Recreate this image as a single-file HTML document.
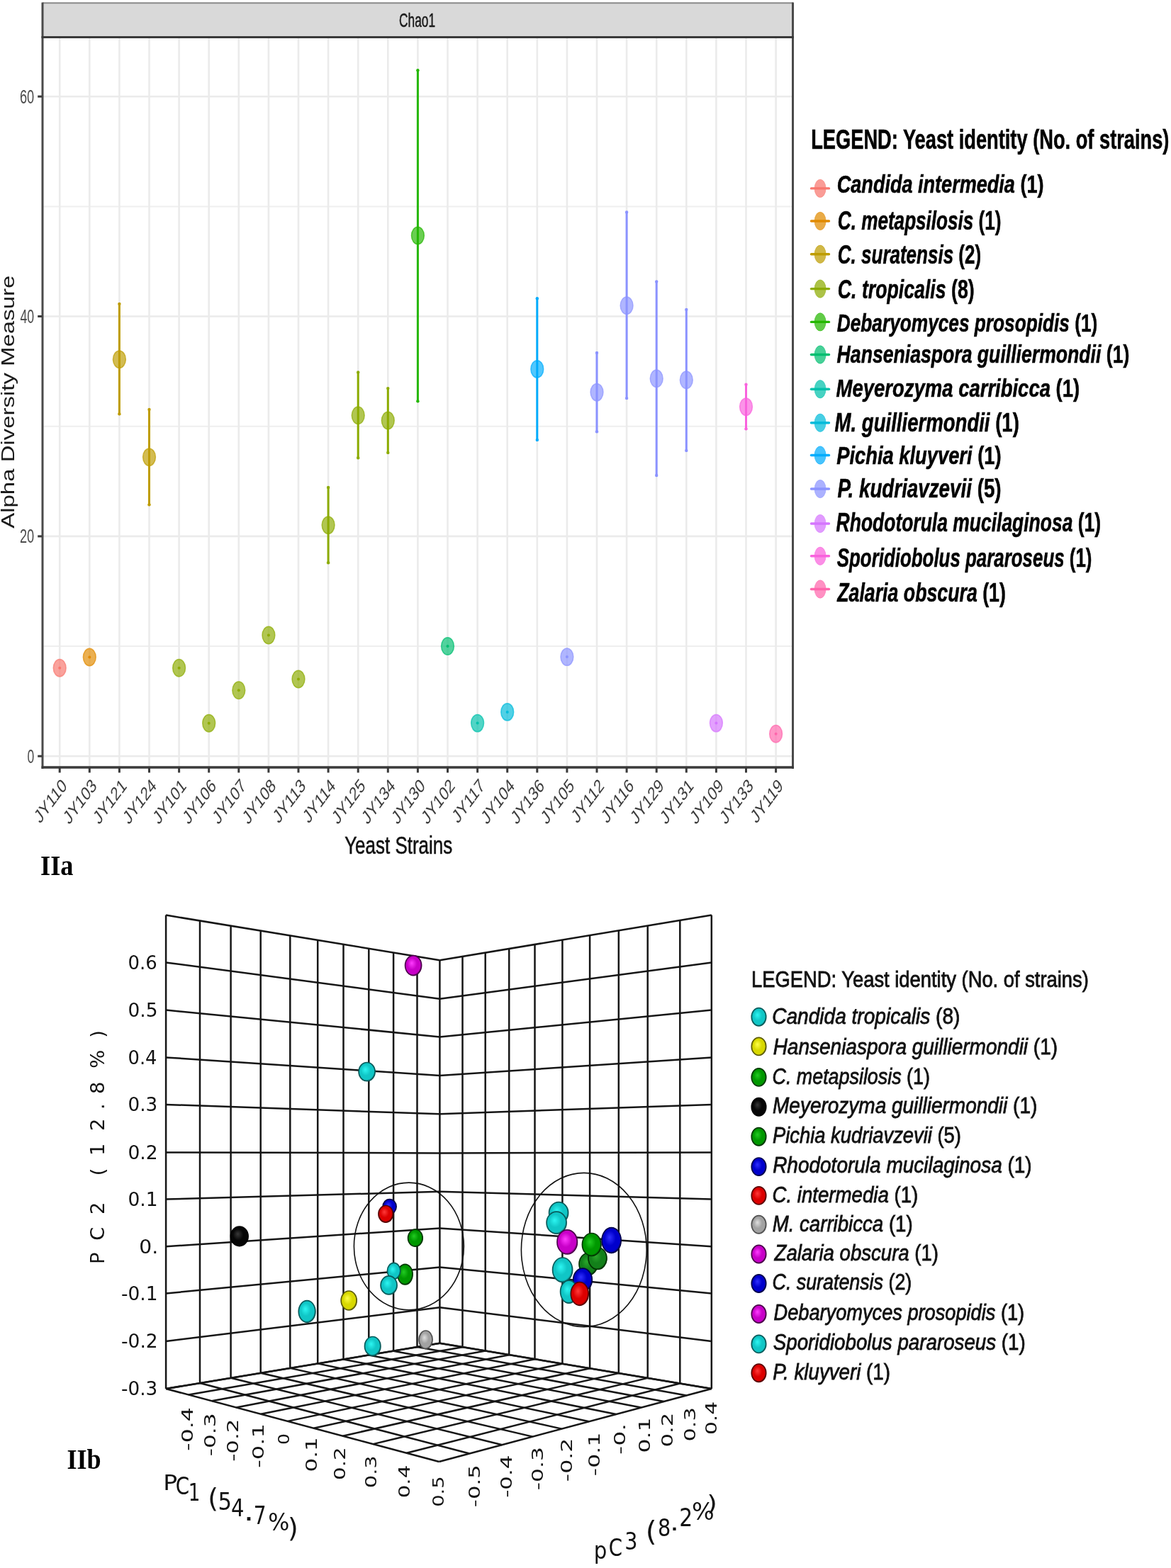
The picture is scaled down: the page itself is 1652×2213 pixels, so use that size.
<!DOCTYPE html>
<html><head><meta charset="utf-8"><title>Alpha diversity and PCA of yeast strains</title>
<style>html,body{margin:0;padding:0;background:#fff;overflow:hidden;width:1652px;height:2213px;} svg{display:block;}</style></head>
<body>
<svg width="1652" height="2213" viewBox="0 0 1652 2213">
<rect width="1652" height="2213" fill="#ffffff"/>
<rect x="60" y="53" width="1059" height="1030" fill="#ffffff"/>
<line x1="61" y1="912.0" x2="1117" y2="912.0" stroke="#EFEFEF" stroke-width="2"/>
<line x1="61" y1="601.7" x2="1117" y2="601.7" stroke="#EFEFEF" stroke-width="2"/>
<line x1="61" y1="291.4" x2="1117" y2="291.4" stroke="#EFEFEF" stroke-width="2"/>
<line x1="61" y1="1067.2" x2="1117" y2="1067.2" stroke="#EBEBEB" stroke-width="2.6"/>
<line x1="61" y1="756.9" x2="1117" y2="756.9" stroke="#EBEBEB" stroke-width="2.6"/>
<line x1="61" y1="446.5" x2="1117" y2="446.5" stroke="#EBEBEB" stroke-width="2.6"/>
<line x1="61" y1="136.2" x2="1117" y2="136.2" stroke="#EBEBEB" stroke-width="2.6"/>
<line x1="84.2" y1="54" x2="84.2" y2="1082" stroke="#EBEBEB" stroke-width="2.6"/>
<line x1="126.3" y1="54" x2="126.3" y2="1082" stroke="#EBEBEB" stroke-width="2.6"/>
<line x1="168.4" y1="54" x2="168.4" y2="1082" stroke="#EBEBEB" stroke-width="2.6"/>
<line x1="210.5" y1="54" x2="210.5" y2="1082" stroke="#EBEBEB" stroke-width="2.6"/>
<line x1="252.6" y1="54" x2="252.6" y2="1082" stroke="#EBEBEB" stroke-width="2.6"/>
<line x1="294.7" y1="54" x2="294.7" y2="1082" stroke="#EBEBEB" stroke-width="2.6"/>
<line x1="336.8" y1="54" x2="336.8" y2="1082" stroke="#EBEBEB" stroke-width="2.6"/>
<line x1="378.9" y1="54" x2="378.9" y2="1082" stroke="#EBEBEB" stroke-width="2.6"/>
<line x1="421.0" y1="54" x2="421.0" y2="1082" stroke="#EBEBEB" stroke-width="2.6"/>
<line x1="463.1" y1="54" x2="463.1" y2="1082" stroke="#EBEBEB" stroke-width="2.6"/>
<line x1="505.2" y1="54" x2="505.2" y2="1082" stroke="#EBEBEB" stroke-width="2.6"/>
<line x1="547.3" y1="54" x2="547.3" y2="1082" stroke="#EBEBEB" stroke-width="2.6"/>
<line x1="589.4" y1="54" x2="589.4" y2="1082" stroke="#EBEBEB" stroke-width="2.6"/>
<line x1="631.5" y1="54" x2="631.5" y2="1082" stroke="#EBEBEB" stroke-width="2.6"/>
<line x1="673.6" y1="54" x2="673.6" y2="1082" stroke="#EBEBEB" stroke-width="2.6"/>
<line x1="715.7" y1="54" x2="715.7" y2="1082" stroke="#EBEBEB" stroke-width="2.6"/>
<line x1="757.8" y1="54" x2="757.8" y2="1082" stroke="#EBEBEB" stroke-width="2.6"/>
<line x1="799.9" y1="54" x2="799.9" y2="1082" stroke="#EBEBEB" stroke-width="2.6"/>
<line x1="842.0" y1="54" x2="842.0" y2="1082" stroke="#EBEBEB" stroke-width="2.6"/>
<line x1="884.1" y1="54" x2="884.1" y2="1082" stroke="#EBEBEB" stroke-width="2.6"/>
<line x1="926.2" y1="54" x2="926.2" y2="1082" stroke="#EBEBEB" stroke-width="2.6"/>
<line x1="968.3" y1="54" x2="968.3" y2="1082" stroke="#EBEBEB" stroke-width="2.6"/>
<line x1="1010.4" y1="54" x2="1010.4" y2="1082" stroke="#EBEBEB" stroke-width="2.6"/>
<line x1="1052.5" y1="54" x2="1052.5" y2="1082" stroke="#EBEBEB" stroke-width="2.6"/>
<line x1="1094.6" y1="54" x2="1094.6" y2="1082" stroke="#EBEBEB" stroke-width="2.6"/>
<rect x="60" y="4" width="1059" height="49" fill="#D9D9D9"/>
<line x1="60" y1="4.2" x2="1119" y2="4.2" stroke="#8A8A8A" stroke-width="2"/>
<line x1="60" y1="3.5" x2="60" y2="1085" stroke="#4A4A4A" stroke-width="3"/>
<line x1="1118.5" y1="3.5" x2="1118.5" y2="1085" stroke="#4A4A4A" stroke-width="3"/>
<line x1="58.5" y1="52.5" x2="1120" y2="52.5" stroke="#3A3A3A" stroke-width="3.2"/>
<line x1="58.5" y1="1083" x2="1120" y2="1083" stroke="#3A3A3A" stroke-width="3.6"/>
<line x1="53.2" y1="1067.2" x2="59" y2="1067.2" stroke="#3A3A3A" stroke-width="3"/>
<line x1="53.2" y1="756.9" x2="59" y2="756.9" stroke="#3A3A3A" stroke-width="3"/>
<line x1="53.2" y1="446.5" x2="59" y2="446.5" stroke="#3A3A3A" stroke-width="3"/>
<line x1="53.2" y1="136.2" x2="59" y2="136.2" stroke="#3A3A3A" stroke-width="3"/>
<line x1="84.2" y1="1084" x2="84.2" y2="1090.5" stroke="#3A3A3A" stroke-width="3"/>
<line x1="126.3" y1="1084" x2="126.3" y2="1090.5" stroke="#3A3A3A" stroke-width="3"/>
<line x1="168.4" y1="1084" x2="168.4" y2="1090.5" stroke="#3A3A3A" stroke-width="3"/>
<line x1="210.5" y1="1084" x2="210.5" y2="1090.5" stroke="#3A3A3A" stroke-width="3"/>
<line x1="252.6" y1="1084" x2="252.6" y2="1090.5" stroke="#3A3A3A" stroke-width="3"/>
<line x1="294.7" y1="1084" x2="294.7" y2="1090.5" stroke="#3A3A3A" stroke-width="3"/>
<line x1="336.8" y1="1084" x2="336.8" y2="1090.5" stroke="#3A3A3A" stroke-width="3"/>
<line x1="378.9" y1="1084" x2="378.9" y2="1090.5" stroke="#3A3A3A" stroke-width="3"/>
<line x1="421.0" y1="1084" x2="421.0" y2="1090.5" stroke="#3A3A3A" stroke-width="3"/>
<line x1="463.1" y1="1084" x2="463.1" y2="1090.5" stroke="#3A3A3A" stroke-width="3"/>
<line x1="505.2" y1="1084" x2="505.2" y2="1090.5" stroke="#3A3A3A" stroke-width="3"/>
<line x1="547.3" y1="1084" x2="547.3" y2="1090.5" stroke="#3A3A3A" stroke-width="3"/>
<line x1="589.4" y1="1084" x2="589.4" y2="1090.5" stroke="#3A3A3A" stroke-width="3"/>
<line x1="631.5" y1="1084" x2="631.5" y2="1090.5" stroke="#3A3A3A" stroke-width="3"/>
<line x1="673.6" y1="1084" x2="673.6" y2="1090.5" stroke="#3A3A3A" stroke-width="3"/>
<line x1="715.7" y1="1084" x2="715.7" y2="1090.5" stroke="#3A3A3A" stroke-width="3"/>
<line x1="757.8" y1="1084" x2="757.8" y2="1090.5" stroke="#3A3A3A" stroke-width="3"/>
<line x1="799.9" y1="1084" x2="799.9" y2="1090.5" stroke="#3A3A3A" stroke-width="3"/>
<line x1="842.0" y1="1084" x2="842.0" y2="1090.5" stroke="#3A3A3A" stroke-width="3"/>
<line x1="884.1" y1="1084" x2="884.1" y2="1090.5" stroke="#3A3A3A" stroke-width="3"/>
<line x1="926.2" y1="1084" x2="926.2" y2="1090.5" stroke="#3A3A3A" stroke-width="3"/>
<line x1="968.3" y1="1084" x2="968.3" y2="1090.5" stroke="#3A3A3A" stroke-width="3"/>
<line x1="1010.4" y1="1084" x2="1010.4" y2="1090.5" stroke="#3A3A3A" stroke-width="3"/>
<line x1="1052.5" y1="1084" x2="1052.5" y2="1090.5" stroke="#3A3A3A" stroke-width="3"/>
<line x1="1094.6" y1="1084" x2="1094.6" y2="1090.5" stroke="#3A3A3A" stroke-width="3"/>
<ellipse cx="84.2" cy="942.7" rx="8.9" ry="12.2" fill="#F8766D" fill-opacity="0.68" stroke="#F8766D" stroke-opacity="0.7" stroke-width="1.5"/>
<circle cx="84.2" cy="942.7" r="2" fill="#F8766D"/>
<ellipse cx="126.3" cy="927.5" rx="8.9" ry="12.2" fill="#E18A00" fill-opacity="0.68" stroke="#E18A00" stroke-opacity="0.7" stroke-width="1.5"/>
<circle cx="126.3" cy="927.5" r="2" fill="#E18A00"/>
<ellipse cx="168.4" cy="507.1" rx="8.9" ry="12.2" fill="#BE9C00" fill-opacity="0.68" stroke="#BE9C00" stroke-opacity="0.7" stroke-width="1.5"/>
<line x1="168.4" y1="429.0" x2="168.4" y2="584.3" stroke="#BE9C00" stroke-width="3"/>
<circle cx="168.4" cy="429.0" r="2.2" fill="#BE9C00"/><circle cx="168.4" cy="584.3" r="2.2" fill="#BE9C00"/>
<ellipse cx="210.5" cy="645.1" rx="8.9" ry="12.2" fill="#BE9C00" fill-opacity="0.68" stroke="#BE9C00" stroke-opacity="0.7" stroke-width="1.5"/>
<line x1="210.5" y1="578.0" x2="210.5" y2="712.3" stroke="#BE9C00" stroke-width="3"/>
<circle cx="210.5" cy="578.0" r="2.2" fill="#BE9C00"/><circle cx="210.5" cy="712.3" r="2.2" fill="#BE9C00"/>
<ellipse cx="252.6" cy="942.7" rx="8.9" ry="12.2" fill="#8CAB00" fill-opacity="0.68" stroke="#8CAB00" stroke-opacity="0.7" stroke-width="1.5"/>
<circle cx="252.6" cy="942.7" r="2" fill="#8CAB00"/>
<ellipse cx="294.7" cy="1020.7" rx="8.9" ry="12.2" fill="#8CAB00" fill-opacity="0.68" stroke="#8CAB00" stroke-opacity="0.7" stroke-width="1.5"/>
<circle cx="294.7" cy="1020.7" r="2" fill="#8CAB00"/>
<ellipse cx="336.8" cy="974.2" rx="8.9" ry="12.2" fill="#8CAB00" fill-opacity="0.68" stroke="#8CAB00" stroke-opacity="0.7" stroke-width="1.5"/>
<circle cx="336.8" cy="974.2" r="2" fill="#8CAB00"/>
<ellipse cx="378.9" cy="896.5" rx="8.9" ry="12.2" fill="#8CAB00" fill-opacity="0.68" stroke="#8CAB00" stroke-opacity="0.7" stroke-width="1.5"/>
<circle cx="378.9" cy="896.5" r="2" fill="#8CAB00"/>
<ellipse cx="421.0" cy="958.5" rx="8.9" ry="12.2" fill="#8CAB00" fill-opacity="0.68" stroke="#8CAB00" stroke-opacity="0.7" stroke-width="1.5"/>
<circle cx="421.0" cy="958.5" r="2" fill="#8CAB00"/>
<ellipse cx="463.1" cy="741.1" rx="8.9" ry="12.2" fill="#8CAB00" fill-opacity="0.68" stroke="#8CAB00" stroke-opacity="0.7" stroke-width="1.5"/>
<line x1="463.1" y1="687.9" x2="463.1" y2="794.2" stroke="#8CAB00" stroke-width="3"/>
<circle cx="463.1" cy="687.9" r="2.2" fill="#8CAB00"/><circle cx="463.1" cy="794.2" r="2.2" fill="#8CAB00"/>
<ellipse cx="505.2" cy="586.3" rx="8.9" ry="12.2" fill="#8CAB00" fill-opacity="0.68" stroke="#8CAB00" stroke-opacity="0.7" stroke-width="1.5"/>
<line x1="505.2" y1="525.4" x2="505.2" y2="646.2" stroke="#8CAB00" stroke-width="3"/>
<circle cx="505.2" cy="525.4" r="2.2" fill="#8CAB00"/><circle cx="505.2" cy="646.2" r="2.2" fill="#8CAB00"/>
<ellipse cx="547.3" cy="593.5" rx="8.9" ry="12.2" fill="#8CAB00" fill-opacity="0.68" stroke="#8CAB00" stroke-opacity="0.7" stroke-width="1.5"/>
<line x1="547.3" y1="548.1" x2="547.3" y2="638.9" stroke="#8CAB00" stroke-width="3"/>
<circle cx="547.3" cy="548.1" r="2.2" fill="#8CAB00"/><circle cx="547.3" cy="638.9" r="2.2" fill="#8CAB00"/>
<ellipse cx="589.4" cy="332.5" rx="8.9" ry="12.2" fill="#24B700" fill-opacity="0.68" stroke="#24B700" stroke-opacity="0.7" stroke-width="1.5"/>
<line x1="589.4" y1="99.2" x2="589.4" y2="566.3" stroke="#24B700" stroke-width="3"/>
<circle cx="589.4" cy="99.2" r="2.2" fill="#24B700"/><circle cx="589.4" cy="566.3" r="2.2" fill="#24B700"/>
<ellipse cx="631.5" cy="912.0" rx="8.9" ry="12.2" fill="#00BE70" fill-opacity="0.68" stroke="#00BE70" stroke-opacity="0.7" stroke-width="1.5"/>
<circle cx="631.5" cy="912.0" r="2" fill="#00BE70"/>
<ellipse cx="673.6" cy="1020.6" rx="8.9" ry="12.2" fill="#00C1AB" fill-opacity="0.68" stroke="#00C1AB" stroke-opacity="0.7" stroke-width="1.5"/>
<circle cx="673.6" cy="1020.6" r="2" fill="#00C1AB"/>
<ellipse cx="715.7" cy="1004.9" rx="8.9" ry="12.2" fill="#00BBDA" fill-opacity="0.68" stroke="#00BBDA" stroke-opacity="0.7" stroke-width="1.5"/>
<circle cx="715.7" cy="1004.9" r="2" fill="#00BBDA"/>
<ellipse cx="757.8" cy="520.9" rx="8.9" ry="12.2" fill="#00ACFC" fill-opacity="0.68" stroke="#00ACFC" stroke-opacity="0.7" stroke-width="1.5"/>
<line x1="757.8" y1="421.2" x2="757.8" y2="620.9" stroke="#00ACFC" stroke-width="3"/>
<circle cx="757.8" cy="421.2" r="2.2" fill="#00ACFC"/><circle cx="757.8" cy="620.9" r="2.2" fill="#00ACFC"/>
<ellipse cx="799.9" cy="927.1" rx="8.9" ry="12.2" fill="#8B93FF" fill-opacity="0.68" stroke="#8B93FF" stroke-opacity="0.7" stroke-width="1.5"/>
<circle cx="799.9" cy="927.1" r="2" fill="#8B93FF"/>
<ellipse cx="842.0" cy="553.6" rx="8.9" ry="12.2" fill="#8B93FF" fill-opacity="0.68" stroke="#8B93FF" stroke-opacity="0.7" stroke-width="1.5"/>
<line x1="842.0" y1="497.9" x2="842.0" y2="609.3" stroke="#8B93FF" stroke-width="3"/>
<circle cx="842.0" cy="497.9" r="2.2" fill="#8B93FF"/><circle cx="842.0" cy="609.3" r="2.2" fill="#8B93FF"/>
<ellipse cx="884.1" cy="431.3" rx="8.9" ry="12.2" fill="#8B93FF" fill-opacity="0.68" stroke="#8B93FF" stroke-opacity="0.7" stroke-width="1.5"/>
<line x1="884.1" y1="299.4" x2="884.1" y2="562.1" stroke="#8B93FF" stroke-width="3"/>
<circle cx="884.1" cy="299.4" r="2.2" fill="#8B93FF"/><circle cx="884.1" cy="562.1" r="2.2" fill="#8B93FF"/>
<ellipse cx="926.2" cy="534.2" rx="8.9" ry="12.2" fill="#8B93FF" fill-opacity="0.68" stroke="#8B93FF" stroke-opacity="0.7" stroke-width="1.5"/>
<line x1="926.2" y1="397.4" x2="926.2" y2="671.0" stroke="#8B93FF" stroke-width="3"/>
<circle cx="926.2" cy="397.4" r="2.2" fill="#8B93FF"/><circle cx="926.2" cy="671.0" r="2.2" fill="#8B93FF"/>
<ellipse cx="968.3" cy="536.2" rx="8.9" ry="12.2" fill="#8B93FF" fill-opacity="0.68" stroke="#8B93FF" stroke-opacity="0.7" stroke-width="1.5"/>
<line x1="968.3" y1="436.9" x2="968.3" y2="635.9" stroke="#8B93FF" stroke-width="3"/>
<circle cx="968.3" cy="436.9" r="2.2" fill="#8B93FF"/><circle cx="968.3" cy="635.9" r="2.2" fill="#8B93FF"/>
<ellipse cx="1010.4" cy="1020.6" rx="8.9" ry="12.2" fill="#D575FE" fill-opacity="0.68" stroke="#D575FE" stroke-opacity="0.7" stroke-width="1.5"/>
<circle cx="1010.4" cy="1020.6" r="2" fill="#D575FE"/>
<ellipse cx="1052.5" cy="574.1" rx="8.9" ry="12.2" fill="#F962DD" fill-opacity="0.68" stroke="#F962DD" stroke-opacity="0.7" stroke-width="1.5"/>
<line x1="1052.5" y1="542.8" x2="1052.5" y2="605.3" stroke="#F962DD" stroke-width="3"/>
<circle cx="1052.5" cy="542.8" r="2.2" fill="#F962DD"/><circle cx="1052.5" cy="605.3" r="2.2" fill="#F962DD"/>
<ellipse cx="1094.6" cy="1035.7" rx="8.9" ry="12.2" fill="#FF65AC" fill-opacity="0.68" stroke="#FF65AC" stroke-opacity="0.7" stroke-width="1.5"/>
<circle cx="1094.6" cy="1035.7" r="2" fill="#FF65AC"/>
<text x="563.04" y="38.10" font-family='"Liberation Sans", sans-serif' font-weight="normal" font-style="normal" font-size="28.41" textLength="50.98" lengthAdjust="spacingAndGlyphs" fill="#1A1A1A" stroke="#1A1A1A" stroke-width="0.5">Chao1</text>
<text x="27.89" y="145.61" font-family='"Liberation Sans", sans-serif' font-weight="normal" font-style="normal" font-size="27.32" textLength="20.29" lengthAdjust="spacingAndGlyphs" fill="#4D4D4D">60</text>
<text x="28.45" y="455.95" font-family='"Liberation Sans", sans-serif' font-weight="normal" font-style="normal" font-size="27.32" textLength="19.72" lengthAdjust="spacingAndGlyphs" fill="#4D4D4D">40</text>
<text x="27.89" y="766.29" font-family='"Liberation Sans", sans-serif' font-weight="normal" font-style="normal" font-size="27.32" textLength="20.29" lengthAdjust="spacingAndGlyphs" fill="#4D4D4D">20</text>
<text x="38.39" y="1076.63" font-family='"Liberation Sans", sans-serif' font-weight="normal" font-style="normal" font-size="27.32" textLength="9.75" lengthAdjust="spacingAndGlyphs" fill="#4D4D4D">0</text>
<g transform="translate(19.5 745.8) rotate(-90)"><text x="0.00" y="0.00" font-family='"Liberation Sans", sans-serif' font-weight="normal" font-style="normal" font-size="25.07" textLength="357.11" lengthAdjust="spacingAndGlyphs" fill="#1A1A1A">Alpha Diversity Measure</text></g>
<g transform="translate(85.1 1096.4) scale(1 1.35) rotate(-45)"><text x="0" y="0" text-anchor="end" dominant-baseline="hanging" font-family='"Liberation Sans", sans-serif' font-size="20" fill="#3C3C3C">JY110</text></g>
<g transform="translate(127.2 1096.4) scale(1 1.35) rotate(-45)"><text x="0" y="0" text-anchor="end" dominant-baseline="hanging" font-family='"Liberation Sans", sans-serif' font-size="20" fill="#3C3C3C">JY103</text></g>
<g transform="translate(169.3 1096.4) scale(1 1.35) rotate(-45)"><text x="0" y="0" text-anchor="end" dominant-baseline="hanging" font-family='"Liberation Sans", sans-serif' font-size="20" fill="#3C3C3C">JY121</text></g>
<g transform="translate(211.4 1096.4) scale(1 1.35) rotate(-45)"><text x="0" y="0" text-anchor="end" dominant-baseline="hanging" font-family='"Liberation Sans", sans-serif' font-size="20" fill="#3C3C3C">JY124</text></g>
<g transform="translate(253.5 1096.4) scale(1 1.35) rotate(-45)"><text x="0" y="0" text-anchor="end" dominant-baseline="hanging" font-family='"Liberation Sans", sans-serif' font-size="20" fill="#3C3C3C">JY101</text></g>
<g transform="translate(295.6 1096.4) scale(1 1.35) rotate(-45)"><text x="0" y="0" text-anchor="end" dominant-baseline="hanging" font-family='"Liberation Sans", sans-serif' font-size="20" fill="#3C3C3C">JY106</text></g>
<g transform="translate(337.7 1096.4) scale(1 1.35) rotate(-45)"><text x="0" y="0" text-anchor="end" dominant-baseline="hanging" font-family='"Liberation Sans", sans-serif' font-size="20" fill="#3C3C3C">JY107</text></g>
<g transform="translate(379.8 1096.4) scale(1 1.35) rotate(-45)"><text x="0" y="0" text-anchor="end" dominant-baseline="hanging" font-family='"Liberation Sans", sans-serif' font-size="20" fill="#3C3C3C">JY108</text></g>
<g transform="translate(421.9 1096.4) scale(1 1.35) rotate(-45)"><text x="0" y="0" text-anchor="end" dominant-baseline="hanging" font-family='"Liberation Sans", sans-serif' font-size="20" fill="#3C3C3C">JY113</text></g>
<g transform="translate(464.0 1096.4) scale(1 1.35) rotate(-45)"><text x="0" y="0" text-anchor="end" dominant-baseline="hanging" font-family='"Liberation Sans", sans-serif' font-size="20" fill="#3C3C3C">JY114</text></g>
<g transform="translate(506.1 1096.4) scale(1 1.35) rotate(-45)"><text x="0" y="0" text-anchor="end" dominant-baseline="hanging" font-family='"Liberation Sans", sans-serif' font-size="20" fill="#3C3C3C">JY125</text></g>
<g transform="translate(548.2 1096.4) scale(1 1.35) rotate(-45)"><text x="0" y="0" text-anchor="end" dominant-baseline="hanging" font-family='"Liberation Sans", sans-serif' font-size="20" fill="#3C3C3C">JY134</text></g>
<g transform="translate(590.3 1096.4) scale(1 1.35) rotate(-45)"><text x="0" y="0" text-anchor="end" dominant-baseline="hanging" font-family='"Liberation Sans", sans-serif' font-size="20" fill="#3C3C3C">JY130</text></g>
<g transform="translate(632.4 1096.4) scale(1 1.35) rotate(-45)"><text x="0" y="0" text-anchor="end" dominant-baseline="hanging" font-family='"Liberation Sans", sans-serif' font-size="20" fill="#3C3C3C">JY102</text></g>
<g transform="translate(674.5 1096.4) scale(1 1.35) rotate(-45)"><text x="0" y="0" text-anchor="end" dominant-baseline="hanging" font-family='"Liberation Sans", sans-serif' font-size="20" fill="#3C3C3C">JY117</text></g>
<g transform="translate(716.6 1096.4) scale(1 1.35) rotate(-45)"><text x="0" y="0" text-anchor="end" dominant-baseline="hanging" font-family='"Liberation Sans", sans-serif' font-size="20" fill="#3C3C3C">JY104</text></g>
<g transform="translate(758.7 1096.4) scale(1 1.35) rotate(-45)"><text x="0" y="0" text-anchor="end" dominant-baseline="hanging" font-family='"Liberation Sans", sans-serif' font-size="20" fill="#3C3C3C">JY136</text></g>
<g transform="translate(800.8 1096.4) scale(1 1.35) rotate(-45)"><text x="0" y="0" text-anchor="end" dominant-baseline="hanging" font-family='"Liberation Sans", sans-serif' font-size="20" fill="#3C3C3C">JY105</text></g>
<g transform="translate(842.9 1096.4) scale(1 1.35) rotate(-45)"><text x="0" y="0" text-anchor="end" dominant-baseline="hanging" font-family='"Liberation Sans", sans-serif' font-size="20" fill="#3C3C3C">JY112</text></g>
<g transform="translate(885.0 1096.4) scale(1 1.35) rotate(-45)"><text x="0" y="0" text-anchor="end" dominant-baseline="hanging" font-family='"Liberation Sans", sans-serif' font-size="20" fill="#3C3C3C">JY116</text></g>
<g transform="translate(927.1 1096.4) scale(1 1.35) rotate(-45)"><text x="0" y="0" text-anchor="end" dominant-baseline="hanging" font-family='"Liberation Sans", sans-serif' font-size="20" fill="#3C3C3C">JY129</text></g>
<g transform="translate(969.2 1096.4) scale(1 1.35) rotate(-45)"><text x="0" y="0" text-anchor="end" dominant-baseline="hanging" font-family='"Liberation Sans", sans-serif' font-size="20" fill="#3C3C3C">JY131</text></g>
<g transform="translate(1011.3 1096.4) scale(1 1.35) rotate(-45)"><text x="0" y="0" text-anchor="end" dominant-baseline="hanging" font-family='"Liberation Sans", sans-serif' font-size="20" fill="#3C3C3C">JY109</text></g>
<g transform="translate(1053.4 1096.4) scale(1 1.35) rotate(-45)"><text x="0" y="0" text-anchor="end" dominant-baseline="hanging" font-family='"Liberation Sans", sans-serif' font-size="20" fill="#3C3C3C">JY133</text></g>
<g transform="translate(1095.5 1096.4) scale(1 1.35) rotate(-45)"><text x="0" y="0" text-anchor="end" dominant-baseline="hanging" font-family='"Liberation Sans", sans-serif' font-size="20" fill="#3C3C3C">JY119</text></g>
<text x="486.18" y="1204.70" font-family='"Liberation Sans", sans-serif' font-weight="normal" font-style="normal" font-size="35.80" textLength="152.04" lengthAdjust="spacingAndGlyphs" fill="#111" stroke="#111" stroke-width="0.6">Yeast Strains</text>
<text x="57.01" y="1234.50" font-family='"Liberation Serif", serif' font-weight="bold" font-style="normal" font-size="40.00" textLength="46.47" lengthAdjust="spacingAndGlyphs" fill="#000">IIa</text>
<text x="1144.23" y="210.10" font-family='"Liberation Sans", sans-serif' font-weight="bold" font-style="normal" font-size="38.70" textLength="505.21" lengthAdjust="spacingAndGlyphs" fill="#000" stroke="#000" stroke-width="0.6">LEGEND: Yeast identity (No. of strains)</text>
<ellipse cx="1157.1" cy="265.9" rx="8" ry="12.7" fill="#F8766D" fill-opacity="0.72" stroke="#F8766D" stroke-opacity="0.5" stroke-width="1"/>
<line x1="1144.5" y1="265.9" x2="1169.5" y2="265.9" stroke="#F8766D" stroke-width="3.4" stroke-linecap="round"/>
<text x="1180.78" y="272.00" font-family='"Liberation Sans", sans-serif' font-weight="bold" font-style="italic" font-size="35.36" textLength="291.77" lengthAdjust="spacingAndGlyphs" fill="#000" stroke="#000" stroke-width="0.55"><tspan font-weight="bold" font-style="italic">Candida intermedia</tspan><tspan font-weight="bold" font-style="normal"> (1)</tspan></text>
<ellipse cx="1157.1" cy="312.0" rx="8" ry="12.7" fill="#E18A00" fill-opacity="0.72" stroke="#E18A00" stroke-opacity="0.5" stroke-width="1"/>
<line x1="1144.5" y1="312.0" x2="1169.5" y2="312.0" stroke="#E18A00" stroke-width="3.4" stroke-linecap="round"/>
<text x="1181.83" y="324.20" font-family='"Liberation Sans", sans-serif' font-weight="bold" font-style="italic" font-size="37.25" textLength="230.68" lengthAdjust="spacingAndGlyphs" fill="#000" stroke="#000" stroke-width="0.55"><tspan font-weight="bold" font-style="italic">C. metapsilosis</tspan><tspan font-weight="bold" font-style="normal"> (1)</tspan></text>
<ellipse cx="1157.1" cy="358.8" rx="8" ry="12.7" fill="#BE9C00" fill-opacity="0.72" stroke="#BE9C00" stroke-opacity="0.5" stroke-width="1"/>
<line x1="1144.5" y1="358.8" x2="1169.5" y2="358.8" stroke="#BE9C00" stroke-width="3.4" stroke-linecap="round"/>
<text x="1181.83" y="372.40" font-family='"Liberation Sans", sans-serif' font-weight="bold" font-style="italic" font-size="37.39" textLength="202.27" lengthAdjust="spacingAndGlyphs" fill="#000" stroke="#000" stroke-width="0.55"><tspan font-weight="bold" font-style="italic">C. suratensis</tspan><tspan font-weight="bold" font-style="normal"> (2)</tspan></text>
<ellipse cx="1157.1" cy="407.6" rx="8" ry="12.7" fill="#8CAB00" fill-opacity="0.72" stroke="#8CAB00" stroke-opacity="0.5" stroke-width="1"/>
<line x1="1144.5" y1="407.6" x2="1169.5" y2="407.6" stroke="#8CAB00" stroke-width="3.4" stroke-linecap="round"/>
<text x="1181.80" y="421.20" font-family='"Liberation Sans", sans-serif' font-weight="bold" font-style="italic" font-size="36.38" textLength="192.84" lengthAdjust="spacingAndGlyphs" fill="#000" stroke="#000" stroke-width="0.55"><tspan font-weight="bold" font-style="italic">C. tropicalis</tspan><tspan font-weight="bold" font-style="normal"> (8)</tspan></text>
<ellipse cx="1157.1" cy="454.4" rx="8" ry="12.7" fill="#24B700" fill-opacity="0.72" stroke="#24B700" stroke-opacity="0.5" stroke-width="1"/>
<line x1="1144.5" y1="454.4" x2="1169.5" y2="454.4" stroke="#24B700" stroke-width="3.4" stroke-linecap="round"/>
<text x="1180.81" y="468.00" font-family='"Liberation Sans", sans-serif' font-weight="bold" font-style="italic" font-size="34.49" textLength="367.51" lengthAdjust="spacingAndGlyphs" fill="#000" stroke="#000" stroke-width="0.55"><tspan font-weight="bold" font-style="italic">Debaryomyces prosopidis</tspan><tspan font-weight="bold" font-style="normal"> (1)</tspan></text>
<ellipse cx="1157.1" cy="500.5" rx="8" ry="12.7" fill="#00BE70" fill-opacity="0.72" stroke="#00BE70" stroke-opacity="0.5" stroke-width="1"/>
<line x1="1144.5" y1="500.5" x2="1169.5" y2="500.5" stroke="#00BE70" stroke-width="3.4" stroke-linecap="round"/>
<text x="1180.60" y="512.00" font-family='"Liberation Sans", sans-serif' font-weight="bold" font-style="italic" font-size="35.36" textLength="412.73" lengthAdjust="spacingAndGlyphs" fill="#000" stroke="#000" stroke-width="0.55"><tspan font-weight="bold" font-style="italic">Hanseniaspora guilliermondii</tspan><tspan font-weight="bold" font-style="normal"> (1)</tspan></text>
<ellipse cx="1157.1" cy="549.2" rx="8" ry="12.7" fill="#00C1AB" fill-opacity="0.72" stroke="#00C1AB" stroke-opacity="0.5" stroke-width="1"/>
<line x1="1144.5" y1="549.2" x2="1169.5" y2="549.2" stroke="#00C1AB" stroke-width="3.4" stroke-linecap="round"/>
<text x="1179.59" y="559.50" font-family='"Liberation Sans", sans-serif' font-weight="bold" font-style="italic" font-size="35.51" textLength="343.59" lengthAdjust="spacingAndGlyphs" fill="#000" stroke="#000" stroke-width="0.55"><tspan font-weight="bold" font-style="italic">Meyerozyma carribicca</tspan><tspan font-weight="bold" font-style="normal"> (1)</tspan></text>
<ellipse cx="1157.1" cy="596.7" rx="8" ry="12.7" fill="#00BBDA" fill-opacity="0.72" stroke="#00BBDA" stroke-opacity="0.5" stroke-width="1"/>
<line x1="1144.5" y1="596.7" x2="1169.5" y2="596.7" stroke="#00BBDA" stroke-width="3.4" stroke-linecap="round"/>
<text x="1177.59" y="608.50" font-family='"Liberation Sans", sans-serif' font-weight="bold" font-style="italic" font-size="36.67" textLength="260.29" lengthAdjust="spacingAndGlyphs" fill="#000" stroke="#000" stroke-width="0.55"><tspan font-weight="bold" font-style="italic">M. guilliermondii</tspan><tspan font-weight="bold" font-style="normal"> (1)</tspan></text>
<ellipse cx="1157.1" cy="642.5" rx="8" ry="12.7" fill="#00ACFC" fill-opacity="0.72" stroke="#00ACFC" stroke-opacity="0.5" stroke-width="1"/>
<line x1="1144.5" y1="642.5" x2="1169.5" y2="642.5" stroke="#00ACFC" stroke-width="3.4" stroke-linecap="round"/>
<text x="1180.19" y="655.20" font-family='"Liberation Sans", sans-serif' font-weight="bold" font-style="italic" font-size="35.51" textLength="232.38" lengthAdjust="spacingAndGlyphs" fill="#000" stroke="#000" stroke-width="0.55"><tspan font-weight="bold" font-style="italic">Pichia kluyveri</tspan><tspan font-weight="bold" font-style="normal"> (1)</tspan></text>
<ellipse cx="1157.1" cy="690.0" rx="8" ry="12.7" fill="#8B93FF" fill-opacity="0.72" stroke="#8B93FF" stroke-opacity="0.5" stroke-width="1"/>
<line x1="1144.5" y1="690.0" x2="1169.5" y2="690.0" stroke="#8B93FF" stroke-width="3.4" stroke-linecap="round"/>
<text x="1181.58" y="701.80" font-family='"Liberation Sans", sans-serif' font-weight="bold" font-style="italic" font-size="36.67" textLength="231.01" lengthAdjust="spacingAndGlyphs" fill="#000" stroke="#000" stroke-width="0.55"><tspan font-weight="bold" font-style="italic">P. kudriavzevii</tspan><tspan font-weight="bold" font-style="normal"> (5)</tspan></text>
<ellipse cx="1157.1" cy="739.0" rx="8" ry="12.7" fill="#D575FE" fill-opacity="0.72" stroke="#D575FE" stroke-opacity="0.5" stroke-width="1"/>
<line x1="1144.5" y1="739.0" x2="1169.5" y2="739.0" stroke="#D575FE" stroke-width="3.4" stroke-linecap="round"/>
<text x="1179.60" y="750.00" font-family='"Liberation Sans", sans-serif' font-weight="bold" font-style="italic" font-size="37.68" textLength="373.52" lengthAdjust="spacingAndGlyphs" fill="#000" stroke="#000" stroke-width="0.55"><tspan font-weight="bold" font-style="italic">Rhodotorula mucilaginosa</tspan><tspan font-weight="bold" font-style="normal"> (1)</tspan></text>
<ellipse cx="1157.1" cy="784.8" rx="8" ry="12.7" fill="#F962DD" fill-opacity="0.72" stroke="#F962DD" stroke-opacity="0.5" stroke-width="1"/>
<line x1="1144.5" y1="784.8" x2="1169.5" y2="784.8" stroke="#F962DD" stroke-width="3.4" stroke-linecap="round"/>
<text x="1180.74" y="799.80" font-family='"Liberation Sans", sans-serif' font-weight="bold" font-style="italic" font-size="36.67" textLength="359.76" lengthAdjust="spacingAndGlyphs" fill="#000" stroke="#000" stroke-width="0.55"><tspan font-weight="bold" font-style="italic">Sporidiobolus pararoseus</tspan><tspan font-weight="bold" font-style="normal"> (1)</tspan></text>
<ellipse cx="1157.1" cy="831.5" rx="8" ry="12.7" fill="#FF65AC" fill-opacity="0.72" stroke="#FF65AC" stroke-opacity="0.5" stroke-width="1"/>
<line x1="1144.5" y1="831.5" x2="1169.5" y2="831.5" stroke="#FF65AC" stroke-width="3.4" stroke-linecap="round"/>
<text x="1181.27" y="848.90" font-family='"Liberation Sans", sans-serif' font-weight="bold" font-style="italic" font-size="36.67" textLength="237.57" lengthAdjust="spacingAndGlyphs" fill="#000" stroke="#000" stroke-width="0.55"><tspan font-weight="bold" font-style="italic">Zalaria obscura</tspan><tspan font-weight="bold" font-style="normal"> (1)</tspan></text>
<defs>
<radialGradient id="g_cyan" cx="0.45" cy="0.45" r="0.6" fx="0.4" fy="0.38"><stop offset="0" stop-color="#2cf6f2"/><stop offset="0.5" stop-color="#10c6c6"/><stop offset="0.82" stop-color="#10c6c6"/><stop offset="1" stop-color="#075a5a"/></radialGradient>
<radialGradient id="g_magenta" cx="0.45" cy="0.45" r="0.6" fx="0.4" fy="0.38"><stop offset="0" stop-color="#ff3cff"/><stop offset="0.5" stop-color="#c800c8"/><stop offset="0.82" stop-color="#c800c8"/><stop offset="1" stop-color="#4a004a"/></radialGradient>
<radialGradient id="g_black" cx="0.45" cy="0.45" r="0.6" fx="0.4" fy="0.38"><stop offset="0" stop-color="#383838"/><stop offset="0.5" stop-color="#060606"/><stop offset="0.82" stop-color="#060606"/><stop offset="1" stop-color="#000000"/></radialGradient>
<radialGradient id="g_red" cx="0.45" cy="0.45" r="0.6" fx="0.4" fy="0.38"><stop offset="0" stop-color="#ff3a3a"/><stop offset="0.5" stop-color="#dc0000"/><stop offset="0.82" stop-color="#dc0000"/><stop offset="1" stop-color="#580000"/></radialGradient>
<radialGradient id="g_blue" cx="0.45" cy="0.45" r="0.6" fx="0.4" fy="0.38"><stop offset="0" stop-color="#3030ff"/><stop offset="0.5" stop-color="#0000cc"/><stop offset="0.82" stop-color="#0000cc"/><stop offset="1" stop-color="#00004a"/></radialGradient>
<radialGradient id="g_green" cx="0.45" cy="0.45" r="0.6" fx="0.4" fy="0.38"><stop offset="0" stop-color="#22cc22"/><stop offset="0.5" stop-color="#009800"/><stop offset="0.82" stop-color="#009800"/><stop offset="1" stop-color="#003600"/></radialGradient>
<radialGradient id="g_dgreen" cx="0.45" cy="0.45" r="0.6" fx="0.4" fy="0.38"><stop offset="0" stop-color="#2aa82a"/><stop offset="0.5" stop-color="#13801a"/><stop offset="0.82" stop-color="#13801a"/><stop offset="1" stop-color="#003000"/></radialGradient>
<radialGradient id="g_yellow" cx="0.45" cy="0.45" r="0.6" fx="0.4" fy="0.38"><stop offset="0" stop-color="#ffff48"/><stop offset="0.5" stop-color="#d8d800"/><stop offset="0.82" stop-color="#d8d800"/><stop offset="1" stop-color="#5a5a00"/></radialGradient>
<radialGradient id="g_gray" cx="0.45" cy="0.45" r="0.6" fx="0.4" fy="0.38"><stop offset="0" stop-color="#dedede"/><stop offset="0.5" stop-color="#a2a2a2"/><stop offset="0.82" stop-color="#a2a2a2"/><stop offset="1" stop-color="#505050"/></radialGradient>
</defs>
<line x1="234.1" y1="1291.6" x2="620.4" y2="1355.2" stroke="#161616" stroke-width="2.5"/>
<line x1="620.4" y1="1355.2" x2="1003.8" y2="1291.6" stroke="#161616" stroke-width="2.5"/>
<line x1="234.1" y1="1358.4" x2="620.4" y2="1409.8" stroke="#161616" stroke-width="2.5"/>
<line x1="620.4" y1="1409.8" x2="1003.8" y2="1358.4" stroke="#161616" stroke-width="2.5"/>
<line x1="234.1" y1="1425.5" x2="620.4" y2="1463.4" stroke="#161616" stroke-width="2.5"/>
<line x1="620.4" y1="1463.4" x2="1003.8" y2="1425.5" stroke="#161616" stroke-width="2.5"/>
<line x1="234.1" y1="1492.4" x2="620.4" y2="1518.1" stroke="#161616" stroke-width="2.5"/>
<line x1="620.4" y1="1518.1" x2="1003.8" y2="1492.4" stroke="#161616" stroke-width="2.5"/>
<line x1="234.1" y1="1558.9" x2="620.4" y2="1572.3" stroke="#161616" stroke-width="2.5"/>
<line x1="620.4" y1="1572.3" x2="1003.8" y2="1558.9" stroke="#161616" stroke-width="2.5"/>
<line x1="234.1" y1="1626.4" x2="620.4" y2="1627.4" stroke="#161616" stroke-width="2.5"/>
<line x1="620.4" y1="1627.4" x2="1003.8" y2="1626.4" stroke="#161616" stroke-width="2.5"/>
<line x1="234.1" y1="1692.5" x2="620.4" y2="1681.8" stroke="#161616" stroke-width="2.5"/>
<line x1="620.4" y1="1681.8" x2="1003.8" y2="1692.5" stroke="#161616" stroke-width="2.5"/>
<line x1="234.1" y1="1759.3" x2="620.4" y2="1733.4" stroke="#161616" stroke-width="2.5"/>
<line x1="620.4" y1="1733.4" x2="1003.8" y2="1759.3" stroke="#161616" stroke-width="2.5"/>
<line x1="234.1" y1="1825.5" x2="620.4" y2="1788.4" stroke="#161616" stroke-width="2.5"/>
<line x1="620.4" y1="1788.4" x2="1003.8" y2="1825.5" stroke="#161616" stroke-width="2.5"/>
<line x1="234.1" y1="1893.0" x2="620.4" y2="1845.3" stroke="#161616" stroke-width="2.5"/>
<line x1="620.4" y1="1845.3" x2="1003.8" y2="1893.0" stroke="#161616" stroke-width="2.5"/>
<line x1="234.1" y1="1960.0" x2="620.4" y2="1895.8" stroke="#161616" stroke-width="2.5"/>
<line x1="620.4" y1="1895.8" x2="1003.8" y2="1960.0" stroke="#161616" stroke-width="2.5"/>
<line x1="234.1" y1="1291.6" x2="234.1" y2="1960.0" stroke="#161616" stroke-width="2.5"/>
<line x1="282.0" y1="1299.5" x2="282.0" y2="1952.0" stroke="#161616" stroke-width="2.5"/>
<line x1="325.6" y1="1306.7" x2="325.6" y2="1944.8" stroke="#161616" stroke-width="2.5"/>
<line x1="367.7" y1="1313.6" x2="367.7" y2="1937.8" stroke="#161616" stroke-width="2.5"/>
<line x1="409.3" y1="1320.4" x2="409.3" y2="1930.9" stroke="#161616" stroke-width="2.5"/>
<line x1="448.2" y1="1326.8" x2="448.2" y2="1924.4" stroke="#161616" stroke-width="2.5"/>
<line x1="484.5" y1="1332.8" x2="484.5" y2="1918.4" stroke="#161616" stroke-width="2.5"/>
<line x1="520.3" y1="1338.7" x2="520.3" y2="1912.4" stroke="#161616" stroke-width="2.5"/>
<line x1="555.1" y1="1344.4" x2="555.1" y2="1906.7" stroke="#161616" stroke-width="2.5"/>
<line x1="588.5" y1="1349.9" x2="588.5" y2="1901.1" stroke="#161616" stroke-width="2.5"/>
<line x1="620.4" y1="1355.2" x2="620.4" y2="1895.8" stroke="#161616" stroke-width="2.5"/>
<line x1="652.5" y1="1349.9" x2="652.5" y2="1901.2" stroke="#161616" stroke-width="2.5"/>
<line x1="684.7" y1="1344.5" x2="684.7" y2="1906.6" stroke="#161616" stroke-width="2.5"/>
<line x1="718.2" y1="1339.0" x2="718.2" y2="1912.2" stroke="#161616" stroke-width="2.5"/>
<line x1="754.5" y1="1333.0" x2="754.5" y2="1918.3" stroke="#161616" stroke-width="2.5"/>
<line x1="793.4" y1="1326.5" x2="793.4" y2="1924.8" stroke="#161616" stroke-width="2.5"/>
<line x1="832.1" y1="1320.1" x2="832.1" y2="1931.2" stroke="#161616" stroke-width="2.5"/>
<line x1="872.8" y1="1313.3" x2="872.8" y2="1938.1" stroke="#161616" stroke-width="2.5"/>
<line x1="913.7" y1="1306.5" x2="913.7" y2="1944.9" stroke="#161616" stroke-width="2.5"/>
<line x1="959.3" y1="1299.0" x2="959.3" y2="1952.5" stroke="#161616" stroke-width="2.5"/>
<line x1="1003.8" y1="1291.6" x2="1003.8" y2="1960.0" stroke="#161616" stroke-width="2.5"/>
<line x1="234.1" y1="1960.0" x2="619.4" y2="2063.0" stroke="#161616" stroke-width="2.5"/>
<line x1="234.1" y1="1960.0" x2="620.4" y2="1895.8" stroke="#161616" stroke-width="2.5"/>
<line x1="282.0" y1="1952.0" x2="662.4" y2="2051.5" stroke="#161616" stroke-width="2.5"/>
<line x1="266.0" y1="1968.5" x2="652.5" y2="1901.2" stroke="#161616" stroke-width="2.5"/>
<line x1="325.6" y1="1944.8" x2="708.4" y2="2039.2" stroke="#161616" stroke-width="2.5"/>
<line x1="298.8" y1="1977.3" x2="684.7" y2="1906.6" stroke="#161616" stroke-width="2.5"/>
<line x1="367.7" y1="1937.8" x2="751.4" y2="2027.6" stroke="#161616" stroke-width="2.5"/>
<line x1="333.2" y1="1986.5" x2="718.2" y2="1912.2" stroke="#161616" stroke-width="2.5"/>
<line x1="409.3" y1="1930.9" x2="792.5" y2="2016.6" stroke="#161616" stroke-width="2.5"/>
<line x1="368.0" y1="1995.8" x2="754.5" y2="1918.3" stroke="#161616" stroke-width="2.5"/>
<line x1="448.2" y1="1924.4" x2="831.0" y2="2006.3" stroke="#161616" stroke-width="2.5"/>
<line x1="405.7" y1="2005.9" x2="793.4" y2="1924.8" stroke="#161616" stroke-width="2.5"/>
<line x1="484.5" y1="1918.4" x2="869.3" y2="1996.0" stroke="#161616" stroke-width="2.5"/>
<line x1="442.5" y1="2015.7" x2="832.1" y2="1931.2" stroke="#161616" stroke-width="2.5"/>
<line x1="520.3" y1="1912.4" x2="904.4" y2="1986.6" stroke="#161616" stroke-width="2.5"/>
<line x1="483.5" y1="2026.7" x2="872.8" y2="1938.1" stroke="#161616" stroke-width="2.5"/>
<line x1="555.1" y1="1906.7" x2="936.5" y2="1978.0" stroke="#161616" stroke-width="2.5"/>
<line x1="526.3" y1="2038.1" x2="913.7" y2="1944.9" stroke="#161616" stroke-width="2.5"/>
<line x1="588.5" y1="1901.1" x2="968.5" y2="1969.5" stroke="#161616" stroke-width="2.5"/>
<line x1="573.6" y1="2050.8" x2="959.3" y2="1952.5" stroke="#161616" stroke-width="2.5"/>
<line x1="620.4" y1="1895.8" x2="1003.8" y2="1960.0" stroke="#161616" stroke-width="2.5"/>
<line x1="619.4" y1="2063.0" x2="1003.8" y2="1960.0" stroke="#161616" stroke-width="2.5"/>
<ellipse cx="576.9" cy="1759.0" rx="77.5" ry="89.9" fill="none" stroke="#111" stroke-width="1.6"/>
<ellipse cx="823.8" cy="1764.0" rx="88.4" ry="108.6" fill="none" stroke="#111" stroke-width="1.6"/>
<ellipse cx="583.1" cy="1362.6" rx="11.5" ry="14.0" fill="url(#g_magenta)" stroke="#4a004a" stroke-width="1.7"/>
<ellipse cx="517.6" cy="1512.6" rx="11.5" ry="13.1" fill="url(#g_cyan)" stroke="#075a5a" stroke-width="1.7"/>
<ellipse cx="337.8" cy="1744.8" rx="12.3" ry="13.8" fill="url(#g_black)" stroke="#000000" stroke-width="1.7"/>
<ellipse cx="549.6" cy="1703.0" rx="9.5" ry="10.5" fill="url(#g_blue)" stroke="#00004a" stroke-width="1.7"/>
<ellipse cx="544.2" cy="1713.3" rx="10.2" ry="11.8" fill="url(#g_red)" stroke="#580000" stroke-width="1.7"/>
<ellipse cx="585.9" cy="1747.2" rx="10.3" ry="12.0" fill="url(#g_green)" stroke="#003600" stroke-width="1.7"/>
<ellipse cx="571.5" cy="1798.6" rx="10.6" ry="14.2" fill="url(#g_green)" stroke="#003600" stroke-width="1.7"/>
<ellipse cx="555.6" cy="1793.8" rx="9.2" ry="11.5" fill="url(#g_cyan)" stroke="#075a5a" stroke-width="1.7"/>
<ellipse cx="548.6" cy="1813.9" rx="11.5" ry="13.0" fill="url(#g_cyan)" stroke="#075a5a" stroke-width="1.7"/>
<ellipse cx="492.2" cy="1835.5" rx="11.0" ry="13.5" fill="url(#g_yellow)" stroke="#5a5a00" stroke-width="1.7"/>
<ellipse cx="433.1" cy="1851.0" rx="11.8" ry="15.3" fill="url(#g_cyan)" stroke="#075a5a" stroke-width="1.7"/>
<ellipse cx="525.7" cy="1899.9" rx="11.2" ry="13.4" fill="url(#g_cyan)" stroke="#075a5a" stroke-width="1.7"/>
<ellipse cx="600.6" cy="1890.8" rx="9.5" ry="12.8" fill="url(#g_gray)" stroke="#505050" stroke-width="1.7"/>
<ellipse cx="788.1" cy="1711.7" rx="13.5" ry="15.0" fill="url(#g_cyan)" stroke="#075a5a" stroke-width="1.7"/>
<ellipse cx="785.1" cy="1725.7" rx="14.0" ry="15.5" fill="url(#g_cyan)" stroke="#075a5a" stroke-width="1.7"/>
<ellipse cx="830.0" cy="1784.0" rx="13.0" ry="15.5" fill="url(#g_dgreen)" stroke="#003000" stroke-width="1.7"/>
<ellipse cx="843.0" cy="1776.0" rx="13.0" ry="15.5" fill="url(#g_dgreen)" stroke="#003000" stroke-width="1.7"/>
<ellipse cx="800.2" cy="1752.9" rx="14.2" ry="17.0" fill="url(#g_magenta)" stroke="#4a004a" stroke-width="1.7"/>
<ellipse cx="834.7" cy="1756.5" rx="13.3" ry="16.0" fill="url(#g_green)" stroke="#003600" stroke-width="1.7"/>
<ellipse cx="862.6" cy="1750.5" rx="13.6" ry="17.8" fill="url(#g_blue)" stroke="#00004a" stroke-width="1.7"/>
<ellipse cx="793.6" cy="1792.2" rx="14.0" ry="17.2" fill="url(#g_cyan)" stroke="#075a5a" stroke-width="1.7"/>
<ellipse cx="822.0" cy="1806.2" rx="13.3" ry="16.0" fill="url(#g_blue)" stroke="#00004a" stroke-width="1.7"/>
<ellipse cx="802.6" cy="1823.1" rx="12.0" ry="16.0" fill="url(#g_cyan)" stroke="#075a5a" stroke-width="1.7"/>
<ellipse cx="817.8" cy="1826.0" rx="12.4" ry="16.4" fill="url(#g_red)" stroke="#580000" stroke-width="1.7"/>
<text x="171.02" y="1969.41" font-family='"DejaVu Sans", sans-serif' font-weight="normal" font-style="normal" font-size="25.96" textLength="51.18" lengthAdjust="spacingAndGlyphs" fill="#111">-0.3</text>
<text x="171.01" y="1902.41" font-family='"DejaVu Sans", sans-serif' font-weight="normal" font-style="normal" font-size="25.96" textLength="51.75" lengthAdjust="spacingAndGlyphs" fill="#111">-0.2</text>
<text x="171.01" y="1834.91" font-family='"DejaVu Sans", sans-serif' font-weight="normal" font-style="normal" font-size="25.96" textLength="51.60" lengthAdjust="spacingAndGlyphs" fill="#111">-0.1</text>
<text x="196.37" y="1768.71" font-family='"DejaVu Sans", sans-serif' font-weight="normal" font-style="normal" font-size="25.96" textLength="26.91" lengthAdjust="spacingAndGlyphs" fill="#111">0.</text>
<text x="180.48" y="1701.91" font-family='"DejaVu Sans", sans-serif' font-weight="normal" font-style="normal" font-size="25.96" textLength="42.11" lengthAdjust="spacingAndGlyphs" fill="#111">0.1</text>
<text x="180.47" y="1635.81" font-family='"DejaVu Sans", sans-serif' font-weight="normal" font-style="normal" font-size="25.96" textLength="42.26" lengthAdjust="spacingAndGlyphs" fill="#111">0.2</text>
<text x="180.50" y="1568.31" font-family='"DejaVu Sans", sans-serif' font-weight="normal" font-style="normal" font-size="25.96" textLength="41.68" lengthAdjust="spacingAndGlyphs" fill="#111">0.3</text>
<text x="180.53" y="1501.81" font-family='"DejaVu Sans", sans-serif' font-weight="normal" font-style="normal" font-size="25.96" textLength="40.97" lengthAdjust="spacingAndGlyphs" fill="#111">0.4</text>
<text x="180.48" y="1434.91" font-family='"DejaVu Sans", sans-serif' font-weight="normal" font-style="normal" font-size="25.96" textLength="41.97" lengthAdjust="spacingAndGlyphs" fill="#111">0.5</text>
<text x="180.51" y="1367.81" font-family='"DejaVu Sans", sans-serif' font-weight="normal" font-style="normal" font-size="25.96" textLength="41.25" lengthAdjust="spacingAndGlyphs" fill="#111">0.6</text>
<g transform="translate(264.5 2046.3) rotate(-90)"><text x="-1.42" y="7.92" font-family='"DejaVu Sans", sans-serif' font-weight="normal" font-style="normal" font-size="21.85" textLength="61.54" lengthAdjust="spacingAndGlyphs" fill="#111">-0.4</text></g>
<g transform="translate(296.3 2053.9) rotate(-90)"><text x="-1.41" y="7.92" font-family='"DejaVu Sans", sans-serif' font-weight="normal" font-style="normal" font-size="21.85" textLength="60.99" lengthAdjust="spacingAndGlyphs" fill="#111">-0.3</text></g>
<g transform="translate(328.0 2061.5) rotate(-90)"><text x="-1.39" y="7.92" font-family='"DejaVu Sans", sans-serif' font-weight="normal" font-style="normal" font-size="21.85" textLength="60.26" lengthAdjust="spacingAndGlyphs" fill="#111">-0.2</text></g>
<g transform="translate(363.7 2070.4) rotate(-90)"><text x="-1.45" y="7.92" font-family='"DejaVu Sans", sans-serif' font-weight="normal" font-style="normal" font-size="21.85" textLength="62.78" lengthAdjust="spacingAndGlyphs" fill="#111">-0.1</text></g>
<g transform="translate(400.5 2037.4) rotate(-90)"><text x="-1.63" y="7.92" font-family='"DejaVu Sans", sans-serif' font-weight="normal" font-style="normal" font-size="21.85" textLength="16.00" lengthAdjust="spacingAndGlyphs" fill="#111">0</text></g>
<g transform="translate(438.7 2075.5) rotate(-90)"><text x="-2.02" y="7.92" font-family='"DejaVu Sans", sans-serif' font-weight="normal" font-style="normal" font-size="21.85" textLength="49.32" lengthAdjust="spacingAndGlyphs" fill="#111">0.1</text></g>
<g transform="translate(479.3 2087.0) rotate(-90)"><text x="-1.91" y="7.92" font-family='"DejaVu Sans", sans-serif' font-weight="normal" font-style="normal" font-size="21.85" textLength="46.71" lengthAdjust="spacingAndGlyphs" fill="#111">0.2</text></g>
<g transform="translate(522.6 2098.4) rotate(-90)"><text x="-1.88" y="7.92" font-family='"DejaVu Sans", sans-serif' font-weight="normal" font-style="normal" font-size="21.85" textLength="46.07" lengthAdjust="spacingAndGlyphs" fill="#111">0.3</text></g>
<g transform="translate(570.4 2112.4) rotate(-90)"><text x="-1.90" y="7.92" font-family='"DejaVu Sans", sans-serif' font-weight="normal" font-style="normal" font-size="21.85" textLength="46.58" lengthAdjust="spacingAndGlyphs" fill="#111">0.4</text></g>
<g transform="translate(617.9 2125.1) rotate(-90)"><text x="-1.78" y="7.92" font-family='"DejaVu Sans", sans-serif' font-weight="normal" font-style="normal" font-size="21.85" textLength="43.51" lengthAdjust="spacingAndGlyphs" fill="#111">0.5</text></g>
<g transform="translate(668.7 2125.8) rotate(-90)"><text x="-1.38" y="7.92" font-family='"DejaVu Sans", sans-serif' font-weight="normal" font-style="normal" font-size="21.85" textLength="59.93" lengthAdjust="spacingAndGlyphs" fill="#111">-0.5</text></g>
<g transform="translate(714.5 2112.5) rotate(-90)"><text x="-1.39" y="7.92" font-family='"DejaVu Sans", sans-serif' font-weight="normal" font-style="normal" font-size="21.85" textLength="60.27" lengthAdjust="spacingAndGlyphs" fill="#111">-0.4</text></g>
<g transform="translate(758.5 2101.8) rotate(-90)"><text x="-1.41" y="7.92" font-family='"DejaVu Sans", sans-serif' font-weight="normal" font-style="normal" font-size="21.85" textLength="60.99" lengthAdjust="spacingAndGlyphs" fill="#111">-0.3</text></g>
<g transform="translate(799.2 2089.8) rotate(-90)"><text x="-1.42" y="7.92" font-family='"DejaVu Sans", sans-serif' font-weight="normal" font-style="normal" font-size="21.85" textLength="61.66" lengthAdjust="spacingAndGlyphs" fill="#111">-0.2</text></g>
<g transform="translate(837.8 2081.8) rotate(-90)"><text x="-1.42" y="7.92" font-family='"DejaVu Sans", sans-serif' font-weight="normal" font-style="normal" font-size="21.85" textLength="61.49" lengthAdjust="spacingAndGlyphs" fill="#111">-0.1</text></g>
<g transform="translate(874.3 2051.2) rotate(-90)"><text x="-1.50" y="7.92" font-family='"DejaVu Sans", sans-serif' font-weight="normal" font-style="normal" font-size="21.85" textLength="43.76" lengthAdjust="spacingAndGlyphs" fill="#111">-0.</text></g>
<g transform="translate(909.0 2048.5) rotate(-90)"><text x="-2.05" y="7.92" font-family='"DejaVu Sans", sans-serif' font-weight="normal" font-style="normal" font-size="21.85" textLength="50.09" lengthAdjust="spacingAndGlyphs" fill="#111">0.1</text></g>
<g transform="translate(940.9 2040.6) rotate(-90)"><text x="-2.00" y="7.92" font-family='"DejaVu Sans", sans-serif' font-weight="normal" font-style="normal" font-size="21.85" textLength="48.94" lengthAdjust="spacingAndGlyphs" fill="#111">0.2</text></g>
<g transform="translate(972.9 2032.6) rotate(-90)"><text x="-1.97" y="7.92" font-family='"DejaVu Sans", sans-serif' font-weight="normal" font-style="normal" font-size="21.85" textLength="48.26" lengthAdjust="spacingAndGlyphs" fill="#111">0.3</text></g>
<g transform="translate(1003.5 2023.2) rotate(-90)"><text x="-1.93" y="7.92" font-family='"DejaVu Sans", sans-serif' font-weight="normal" font-style="normal" font-size="21.85" textLength="47.33" lengthAdjust="spacingAndGlyphs" fill="#111">0.4</text></g>
<text transform="translate(146.8 1775.8) rotate(-90)" text-anchor="middle" font-family='"DejaVu Sans", sans-serif' font-size="27.3" fill="#111">P</text>
<text transform="translate(146.8 1741.2) rotate(-90)" text-anchor="middle" font-family='"DejaVu Sans", sans-serif' font-size="27.3" fill="#111">C</text>
<text transform="translate(146.8 1705.3) rotate(-90)" text-anchor="middle" font-family='"DejaVu Sans", sans-serif' font-size="27.3" fill="#111">2</text>
<text transform="translate(146.8 1653.8) rotate(-90)" text-anchor="middle" font-family='"DejaVu Sans", sans-serif' font-size="27.3" fill="#111">(</text>
<text transform="translate(146.8 1622.2) rotate(-90)" text-anchor="middle" font-family='"DejaVu Sans", sans-serif' font-size="27.3" fill="#111">1</text>
<text transform="translate(146.8 1587.4) rotate(-90)" text-anchor="middle" font-family='"DejaVu Sans", sans-serif' font-size="27.3" fill="#111">2</text>
<text transform="translate(146.8 1561.7) rotate(-90)" text-anchor="middle" font-family='"DejaVu Sans", sans-serif' font-size="27.3" fill="#111">.</text>
<text transform="translate(146.8 1535.4) rotate(-90)" text-anchor="middle" font-family='"DejaVu Sans", sans-serif' font-size="27.3" fill="#111">8</text>
<text transform="translate(146.8 1494.7) rotate(-90)" text-anchor="middle" font-family='"DejaVu Sans", sans-serif' font-size="27.3" fill="#111">%</text>
<text transform="translate(146.8 1459.5) rotate(-90)" text-anchor="middle" font-family='"DejaVu Sans", sans-serif' font-size="27.3" fill="#111">)</text>
<text x="230.36" y="2102.70" font-family='"DejaVu Sans", sans-serif' font-weight="normal" font-style="normal" font-size="30.68" textLength="19.93" lengthAdjust="spacingAndGlyphs" fill="#111">P</text>
<text x="247.67" y="2108.81" font-family='"DejaVu Sans", sans-serif' font-weight="normal" font-style="normal" font-size="32.85" textLength="19.41" lengthAdjust="spacingAndGlyphs" fill="#111">C</text>
<text x="265.86" y="2117.80" font-family='"DejaVu Sans", sans-serif' font-weight="normal" font-style="normal" font-size="33.97" textLength="16.63" lengthAdjust="spacingAndGlyphs" fill="#111">1</text>
<text x="293.19" y="2127.36" font-family='"DejaVu Sans", sans-serif' font-weight="normal" font-style="normal" font-size="37.98" textLength="14.74" lengthAdjust="spacingAndGlyphs" fill="#111">(</text>
<text x="307.39" y="2131.19" font-family='"DejaVu Sans", sans-serif' font-weight="normal" font-style="normal" font-size="34.09" textLength="19.56" lengthAdjust="spacingAndGlyphs" fill="#111">5</text>
<text x="325.99" y="2139.60" font-family='"DejaVu Sans", sans-serif' font-weight="normal" font-style="normal" font-size="33.97" textLength="18.50" lengthAdjust="spacingAndGlyphs" fill="#111">4</text>
<text x="343.70" y="2146.30" font-family='"DejaVu Sans", sans-serif' font-weight="normal" font-style="normal" font-size="39.20" textLength="14.53" lengthAdjust="spacingAndGlyphs" fill="#111">.</text>
<text x="357.76" y="2151.10" font-family='"DejaVu Sans", sans-serif' font-weight="normal" font-style="normal" font-size="34.79" textLength="17.82" lengthAdjust="spacingAndGlyphs" fill="#111">7</text>
<text x="378.26" y="2159.68" font-family='"DejaVu Sans", sans-serif' font-weight="normal" font-style="normal" font-size="34.44" textLength="30.09" lengthAdjust="spacingAndGlyphs" fill="#111">%</text>
<text x="405.98" y="2168.55" font-family='"DejaVu Sans", sans-serif' font-weight="normal" font-style="normal" font-size="38.09" textLength="14.74" lengthAdjust="spacingAndGlyphs" fill="#111">)</text>
<text x="837.66" y="2199.95" font-family='"DejaVu Sans", sans-serif' font-weight="normal" font-style="normal" font-size="33.12" textLength="18.59" lengthAdjust="spacingAndGlyphs" fill="#111">p</text>
<text x="858.78" y="2196.08" font-family='"DejaVu Sans", sans-serif' font-weight="normal" font-style="normal" font-size="34.57" textLength="19.29" lengthAdjust="spacingAndGlyphs" fill="#111">C</text>
<text x="881.15" y="2186.99" font-family='"DejaVu Sans", sans-serif' font-weight="normal" font-style="normal" font-size="33.77" textLength="18.23" lengthAdjust="spacingAndGlyphs" fill="#111">3</text>
<text x="910.66" y="2174.56" font-family='"DejaVu Sans", sans-serif' font-weight="normal" font-style="normal" font-size="38.76" textLength="15.78" lengthAdjust="spacingAndGlyphs" fill="#111">(</text>
<text x="928.03" y="2167.60" font-family='"DejaVu Sans", sans-serif' font-weight="normal" font-style="normal" font-size="33.64" textLength="18.27" lengthAdjust="spacingAndGlyphs" fill="#111">8</text>
<text x="944.90" y="2159.60" font-family='"DejaVu Sans", sans-serif' font-weight="normal" font-style="normal" font-size="33.60" textLength="13.02" lengthAdjust="spacingAndGlyphs" fill="#111">.</text>
<text x="958.31" y="2154.00" font-family='"DejaVu Sans", sans-serif' font-weight="normal" font-style="normal" font-size="35.00" textLength="18.95" lengthAdjust="spacingAndGlyphs" fill="#111">2</text>
<text x="975.97" y="2145.00" font-family='"DejaVu Sans", sans-serif' font-weight="normal" font-style="normal" font-size="33.11" textLength="31.67" lengthAdjust="spacingAndGlyphs" fill="#111">%</text>
<text x="997.31" y="2132.24" font-family='"DejaVu Sans", sans-serif' font-weight="normal" font-style="normal" font-size="30.45" textLength="14.57" lengthAdjust="spacingAndGlyphs" fill="#111">)</text>
<text x="94.42" y="2073.40" font-family='"Liberation Serif", serif' font-weight="bold" font-style="normal" font-size="39.85" textLength="48.12" lengthAdjust="spacingAndGlyphs" fill="#000">IIb</text>
<text x="1060.11" y="1393.10" font-family='"Liberation Sans", sans-serif' font-weight="normal" font-style="normal" font-size="31.59" textLength="475.74" lengthAdjust="spacingAndGlyphs" fill="#111" stroke="#111" stroke-width="0.85">LEGEND: Yeast identity (No. of strains)</text>
<ellipse cx="1070.5" cy="1435.2" rx="10.2" ry="12.6" fill="url(#g_cyan)" stroke="#075a5a" stroke-width="1.7"/>
<text x="1089.26" y="1445.40" font-family='"Liberation Sans", sans-serif' font-weight="normal" font-style="italic" font-size="31.01" textLength="265.13" lengthAdjust="spacingAndGlyphs" fill="#111" stroke="#111" stroke-width="0.8"><tspan font-weight="normal" font-style="italic">Candida tropicalis</tspan><tspan font-weight="normal" font-style="normal"> (8)</tspan></text>
<ellipse cx="1070.5" cy="1476.9" rx="10.2" ry="12.6" fill="url(#g_yellow)" stroke="#5a5a00" stroke-width="1.7"/>
<text x="1090.66" y="1487.50" font-family='"Liberation Sans", sans-serif' font-weight="normal" font-style="italic" font-size="31.01" textLength="401.42" lengthAdjust="spacingAndGlyphs" fill="#111" stroke="#111" stroke-width="0.8"><tspan font-weight="normal" font-style="italic">Hanseniaspora guilliermondii</tspan><tspan font-weight="normal" font-style="normal"> (1)</tspan></text>
<ellipse cx="1070.5" cy="1520.4" rx="10.2" ry="12.6" fill="url(#g_green)" stroke="#003600" stroke-width="1.7"/>
<text x="1089.52" y="1529.50" font-family='"Liberation Sans", sans-serif' font-weight="normal" font-style="italic" font-size="31.01" textLength="222.39" lengthAdjust="spacingAndGlyphs" fill="#111" stroke="#111" stroke-width="0.8"><tspan font-weight="normal" font-style="italic">C. metapsilosis</tspan><tspan font-weight="normal" font-style="normal"> (1)</tspan></text>
<ellipse cx="1070.5" cy="1562.2" rx="10.2" ry="12.6" fill="url(#g_black)" stroke="#000000" stroke-width="1.7"/>
<text x="1090.06" y="1570.60" font-family='"Liberation Sans", sans-serif' font-weight="normal" font-style="italic" font-size="31.01" textLength="373.22" lengthAdjust="spacingAndGlyphs" fill="#111" stroke="#111" stroke-width="0.8"><tspan font-weight="normal" font-style="italic">Meyerozyma guilliermondii</tspan><tspan font-weight="normal" font-style="normal"> (1)</tspan></text>
<ellipse cx="1070.5" cy="1604.2" rx="10.2" ry="12.6" fill="url(#g_green)" stroke="#003600" stroke-width="1.7"/>
<text x="1090.08" y="1613.40" font-family='"Liberation Sans", sans-serif' font-weight="normal" font-style="italic" font-size="31.01" textLength="265.76" lengthAdjust="spacingAndGlyphs" fill="#111" stroke="#111" stroke-width="0.8"><tspan font-weight="normal" font-style="italic">Pichia kudriavzevii</tspan><tspan font-weight="normal" font-style="normal"> (5)</tspan></text>
<ellipse cx="1070.5" cy="1646.6" rx="10.2" ry="12.6" fill="url(#g_blue)" stroke="#00004a" stroke-width="1.7"/>
<text x="1090.16" y="1655.40" font-family='"Liberation Sans", sans-serif' font-weight="normal" font-style="italic" font-size="31.01" textLength="365.52" lengthAdjust="spacingAndGlyphs" fill="#111" stroke="#111" stroke-width="0.8"><tspan font-weight="normal" font-style="italic">Rhodotorula mucilaginosa</tspan><tspan font-weight="normal" font-style="normal"> (1)</tspan></text>
<ellipse cx="1070.5" cy="1687.4" rx="10.2" ry="12.6" fill="url(#g_red)" stroke="#580000" stroke-width="1.7"/>
<text x="1089.48" y="1696.50" font-family='"Liberation Sans", sans-serif' font-weight="normal" font-style="italic" font-size="31.01" textLength="205.78" lengthAdjust="spacingAndGlyphs" fill="#111" stroke="#111" stroke-width="0.8"><tspan font-weight="normal" font-style="italic">C. intermedia</tspan><tspan font-weight="normal" font-style="normal"> (1)</tspan></text>
<ellipse cx="1070.5" cy="1728.3" rx="10.2" ry="12.6" fill="url(#g_gray)" stroke="#505050" stroke-width="1.7"/>
<text x="1089.67" y="1737.60" font-family='"Liberation Sans", sans-serif' font-weight="normal" font-style="italic" font-size="31.01" textLength="197.99" lengthAdjust="spacingAndGlyphs" fill="#111" stroke="#111" stroke-width="0.8"><tspan font-weight="normal" font-style="italic">M. carribicca</tspan><tspan font-weight="normal" font-style="normal"> (1)</tspan></text>
<ellipse cx="1070.5" cy="1770.0" rx="10.2" ry="12.6" fill="url(#g_magenta)" stroke="#4a004a" stroke-width="1.7"/>
<text x="1092.55" y="1779.40" font-family='"Liberation Sans", sans-serif' font-weight="normal" font-style="italic" font-size="31.01" textLength="231.51" lengthAdjust="spacingAndGlyphs" fill="#111" stroke="#111" stroke-width="0.8"><tspan font-weight="normal" font-style="italic">Zalaria obscura</tspan><tspan font-weight="normal" font-style="normal"> (1)</tspan></text>
<ellipse cx="1070.5" cy="1811.5" rx="10.2" ry="12.6" fill="url(#g_blue)" stroke="#00004a" stroke-width="1.7"/>
<text x="1089.53" y="1820.00" font-family='"Liberation Sans", sans-serif' font-weight="normal" font-style="italic" font-size="31.01" textLength="196.69" lengthAdjust="spacingAndGlyphs" fill="#111" stroke="#111" stroke-width="0.8"><tspan font-weight="normal" font-style="italic">C. suratensis</tspan><tspan font-weight="normal" font-style="normal"> (2)</tspan></text>
<ellipse cx="1070.5" cy="1854.5" rx="10.2" ry="12.6" fill="url(#g_magenta)" stroke="#4a004a" stroke-width="1.7"/>
<text x="1091.58" y="1863.40" font-family='"Liberation Sans", sans-serif' font-weight="normal" font-style="italic" font-size="31.01" textLength="353.55" lengthAdjust="spacingAndGlyphs" fill="#111" stroke="#111" stroke-width="0.8"><tspan font-weight="normal" font-style="italic">Debaryomyces prosopidis</tspan><tspan font-weight="normal" font-style="normal"> (1)</tspan></text>
<ellipse cx="1070.5" cy="1896.9" rx="10.2" ry="12.6" fill="url(#g_cyan)" stroke="#075a5a" stroke-width="1.7"/>
<text x="1090.81" y="1904.80" font-family='"Liberation Sans", sans-serif' font-weight="normal" font-style="italic" font-size="31.01" textLength="355.86" lengthAdjust="spacingAndGlyphs" fill="#111" stroke="#111" stroke-width="0.8"><tspan font-weight="normal" font-style="italic">Sporidiobolus pararoseus</tspan><tspan font-weight="normal" font-style="normal"> (1)</tspan></text>
<ellipse cx="1070.5" cy="1937.7" rx="10.2" ry="12.6" fill="url(#g_red)" stroke="#580000" stroke-width="1.7"/>
<text x="1090.17" y="1946.50" font-family='"Liberation Sans", sans-serif' font-weight="normal" font-style="italic" font-size="31.01" textLength="165.80" lengthAdjust="spacingAndGlyphs" fill="#111" stroke="#111" stroke-width="0.8"><tspan font-weight="normal" font-style="italic">P. kluyveri</tspan><tspan font-weight="normal" font-style="normal"> (1)</tspan></text>
</svg>
</body></html>
